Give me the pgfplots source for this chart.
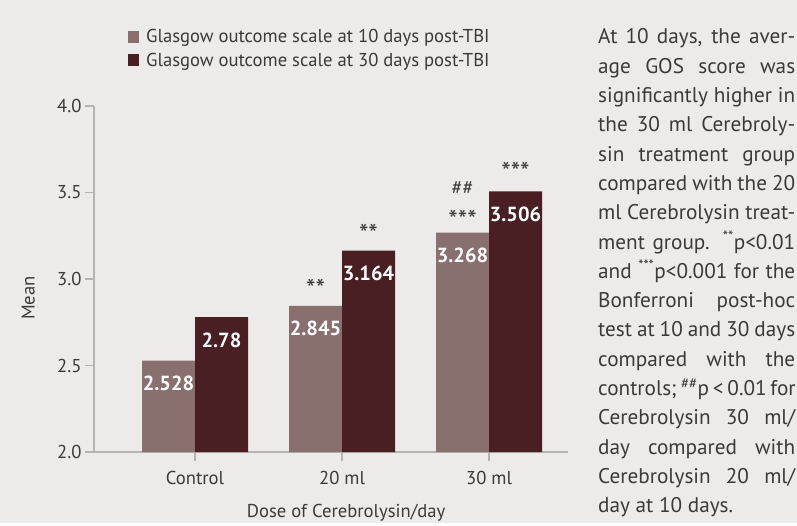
\documentclass[border=0pt]{standalone}
\usepackage{pgfplots}
\pgfplotsset{compat=1.18}
\usepackage{fontspec}
\setmainfont{PT Sans}
\definecolor{bgc}{HTML}{ECEBE9}
\definecolor{lightbar}{HTML}{8A6F6F}
\definecolor{darkbar}{HTML}{4A1F23}
\definecolor{axgray}{HTML}{B4B4B4}
\definecolor{txt}{HTML}{3A3A3A}
\pgfplotsset{/pgfplots/ybar legend/.style={legend image code/.code={\fill[##1] (0bp,-6bp) rectangle (11bp,6bp); \path (17bp,0bp);}}}
\begin{document}
\begin{tikzpicture}
\fill[bgc] (0,0) rectangle (797bp,-523bp);
\begin{axis}[
  at={(94bp,-452bp)}, anchor=south west,
  scale only axis, width=474bp, height=346bp,
  xmin=-0.687, xmax=2.537, ymin=2, ymax=4,
  axis lines*=left,
  axis line style={axgray, line width=1.5bp},
  tick style={axgray, line width=1.5bp},
  tick align=outside, major tick length=9bp,
  /pgf/number format/assume math mode=true,
  ytick={2,2.5,3,3.5,4},
  yticklabel style={/pgf/number format/.cd, fixed, precision=1, fixed zerofill},
  xtick={0,1,2}, xticklabels={Control,20 ml,30 ml},
  tick label style={font=\fontsize{18.7}{22}\selectfont, text=txt},
  xticklabel style={yshift=-7bp},
  ylabel=Mean, xlabel={Dose of Cerebrolysin/day},
  label style={font=\fontsize{18.7}{22}\selectfont, text=txt},
  ylabel style={at={(axis description cs:-0.139,0.445)}, anchor=center},
  xlabel style={at={(axis description cs:0.532,-0.177)}, anchor=center},
  ybar=0pt, bar width=53bp,
  clip=false,
  nodes near coords={\pgfmathprintnumber[fixed,precision=3]{\pgfplotspointmeta}},
  every node near coord/.append style={font=\bfseries\fontsize{20.5}{22}\selectfont, text=white, anchor=center, yshift=-23bp},
  legend style={at={(0.0717,1.225)}, anchor=north west, draw=none, fill=none, inner sep=0pt,
    font=\fontsize{18.7}{22}\selectfont, text=txt, row sep=7bp,
    nodes={inner sep=1bp}},
  legend cell align=left,
]
\addplot[fill=lightbar, draw=none] coordinates {(0,2.528) (1,2.845) (2,3.268)};
\addlegendentry{Glasgow outcome scale at 10 days post-TBI}
\addplot[fill=darkbar, draw=none] coordinates {(0,2.78) (1,3.164) (2,3.506)};
\addlegendentry{Glasgow outcome scale at 30 days post-TBI}
\node[text=txt, font=\fontsize{27}{27}\selectfont] at (axis cs:0.82,2.94) {**};
\node[text=txt, font=\fontsize{27}{27}\selectfont] at (axis cs:1.18,3.263) {**};
\node[text=txt, font=\fontsize{27}{27}\selectfont] at (axis cs:1.82,3.339) {***};
\node[text=txt, font=\fontsize{20}{22}\selectfont] at (axis cs:1.82,3.525) {\#\#};
\node[text=txt, font=\fontsize{27}{27}\selectfont] at (axis cs:2.18,3.622) {***};
\end{axis}
\begin{scope}[every node/.style={anchor=base west, inner sep=0pt, text=txt, font=\fontsize{21.3}{24}\selectfont}]
\node at (598bp,-44bp) {\makebox[197bp][s]{At 10 days, the aver-}};
\node at (598bp,-73.3bp) {\makebox[197bp][s]{age GOS score was}};
\node at (598bp,-102.6bp) {\makebox[197bp][s]{significantly higher in}};
\node at (598bp,-131.9bp) {\makebox[197bp][s]{the 30 ml Cerebroly-}};
\node at (598bp,-161.2bp) {\makebox[197bp][s]{sin treatment group}};
\node at (598bp,-190.5bp) {\makebox[197bp][s]{compared with the 20}};
\node at (598bp,-219.8bp) {\makebox[197bp][s]{ml Cerebrolysin treat-}};
\node at (598bp,-249.1bp) {\makebox[197bp][s]{ment group. \textsuperscript{**}p<0.01}};
\node at (598bp,-278.4bp) {\makebox[197bp][s]{and \textsuperscript{***}p<0.001 for the}};
\node at (598bp,-307.7bp) {\makebox[197bp][s]{Bonferroni post-hoc}};
\node at (598bp,-337bp) {\makebox[197bp][s]{test at 10 and 30 days}};
\node at (598bp,-366.3bp) {\makebox[197bp][s]{compared with the}};
\node at (598bp,-395.6bp) {\makebox[197bp][s]{controls; \textsuperscript{\#\#}p < 0.01 for}};
\node at (598bp,-424.9bp) {\makebox[197bp][s]{Cerebrolysin 30 ml/}};
\node at (598bp,-454.2bp) {\makebox[197bp][s]{day compared with}};
\node at (598bp,-483.5bp) {\makebox[197bp][s]{Cerebrolysin 20 ml/}};
\node at (598bp,-512.8bp) {day at 10 days.};
\end{scope}
\end{tikzpicture}
\end{document}
